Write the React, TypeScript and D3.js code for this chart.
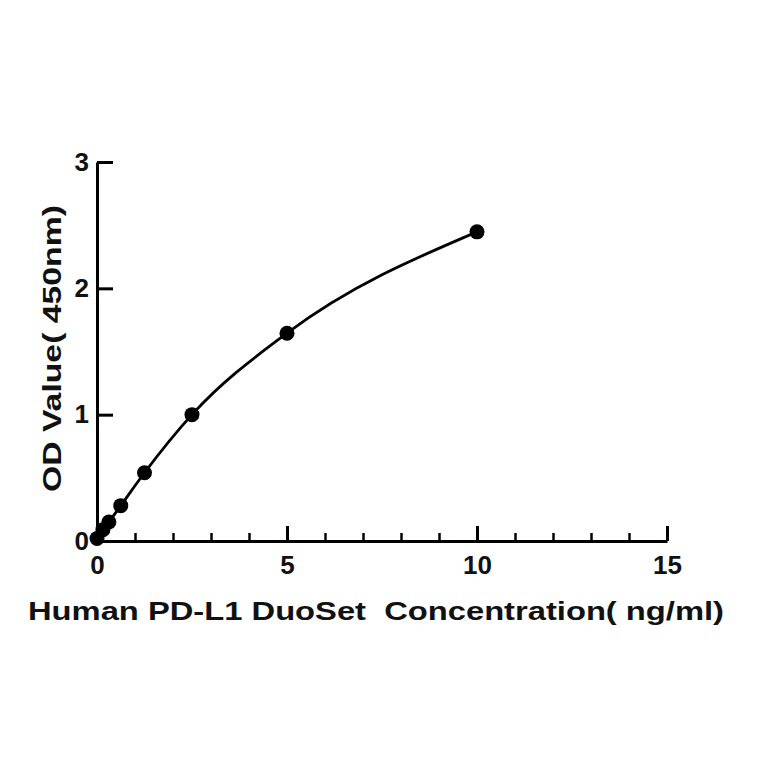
import React, { useEffect, useRef } from 'react'
import * as d3 from 'd3'

// standard curve points (concentration ng/ml, OD 450nm)
const concentrations = [0, 0.156, 0.3125, 0.625, 1.25, 2.5, 5, 10]
const odValues = [0.02, 0.09, 0.15, 0.28, 0.54, 1.0, 1.645, 2.447]

const xMajorTicks = [0, 5, 10, 15]
const xMinorTicks = [1, 2, 3, 4, 6, 7, 8, 9, 11, 12, 13, 14]
const yTicks = [0, 1, 2, 3]

const xTitle = 'Human PD-L1 DuoSet  Concentration( ng/ml)'
const yTitle = 'OD Value( 450nm)'

const W = 764
const H = 764
const left = 97
const right = 667
const top = 162
const bottom = 541
const font = '"Liberation Sans", Arial, sans-serif'

// stretch a title along its own direction to a target length
const fitTitle = (sel: d3.Selection<SVGTextElement, unknown, null, undefined>, x0: number, y0: number, rot: number, len: number) => {
    const w = sel.node()!.getComputedTextLength()
    sel.attr('transform', `translate(${x0},${y0}) rotate(${rot}) scale(${len / w},1)`)
}

const draw = (el: SVGSVGElement) => {
    const svg = d3.select(el)
    svg.selectAll('*').remove()

    // Scales
    const x = d3.scaleLinear().domain([0, 15]).range([left, right])
    const y = d3.scaleLinear().domain([0, 3]).range([bottom, top])

    // Minor x ticks
    svg.append('g')
        .attr('transform', `translate(0,${bottom})`)
        .call(d3.axisBottom(x).tickValues(xMinorTicks).tickSize(-8).tickFormat(() => ''))
        .call(g => g.select('.domain').remove())
        .selectAll('line')
        .attr('stroke-width', 2.5)

    // Major x axis
    const xAxis = svg.append('g')
        .attr('transform', `translate(0,${bottom})`)
        .call(d3.axisBottom(x).tickValues(xMajorTicks).tickSizeInner(-15).tickSizeOuter(0).tickPadding(15))
    xAxis.select('.domain').attr('stroke-width', 3)
    xAxis.selectAll('line').attr('stroke-width', 3)
    xAxis.selectAll('text')
        .attr('font-family', font)
        .attr('font-weight', 'bold')
        .attr('font-size', 26)
        .attr('fill', '#111')

    // y axis
    const yAxis = svg.append('g')
        .attr('transform', `translate(${left},0)`)
        .call(d3.axisLeft(y).tickValues(yTicks).tickSizeInner(-16).tickSizeOuter(0).tickPadding(8).tickFormat(d3.format('d')))
    yAxis.select('.domain').attr('stroke-width', 3)
    yAxis.selectAll('line').attr('stroke-width', 3)
    yAxis.selectAll('text')
        .attr('font-family', font)
        .attr('font-weight', 'bold')
        .attr('font-size', 26)
        .attr('fill', '#111')

    const pts: [number, number][] = concentrations.map((c, i) => [c, odValues[i]])

    // Fitted curve
    const line = d3
        .line<[number, number]>()
        .x(d => x(d[0]))
        .y(d => y(d[1]))
        .curve(d3.curveMonotoneX)
    svg.append('path')
        .datum(pts)
        .attr('d', line)
        .attr('fill', 'none')
        .attr('stroke', '#000')
        .attr('stroke-width', 2.8)

    // Points
    svg.append('g')
        .selectAll('circle')
        .data(pts)
        .join('circle')
        .attr('cx', d => x(d[0]))
        .attr('cy', d => y(d[1]))
        .attr('r', 7.5)
        .attr('fill', '#000')

    // Axis titles
    const xt = svg.append('text')
        .style('white-space', 'pre')
        .attr('font-family', font)
        .attr('font-weight', 'bold')
        .attr('font-size', 25)
        .attr('fill', '#111')
        .text(xTitle)
    fitTitle(xt, 28, 620, 0, 696)

    const yt = svg.append('text')
        .style('white-space', 'pre')
        .attr('font-family', font)
        .attr('font-weight', 'bold')
        .attr('font-size', 25)
        .attr('fill', '#111')
        .text(yTitle)
    fitTitle(yt, 61, 492, -90, 287)
}

export default function App() {
    const ref = useRef<SVGSVGElement>(null)
    useEffect(() => {
        if (ref.current) draw(ref.current)
    }, [])
    return (
        <svg
            ref={ref}
            width={W}
            height={H}
            style={{ position: 'absolute', left: 0, top: 0, background: '#fff' }}
        />
    )
}
